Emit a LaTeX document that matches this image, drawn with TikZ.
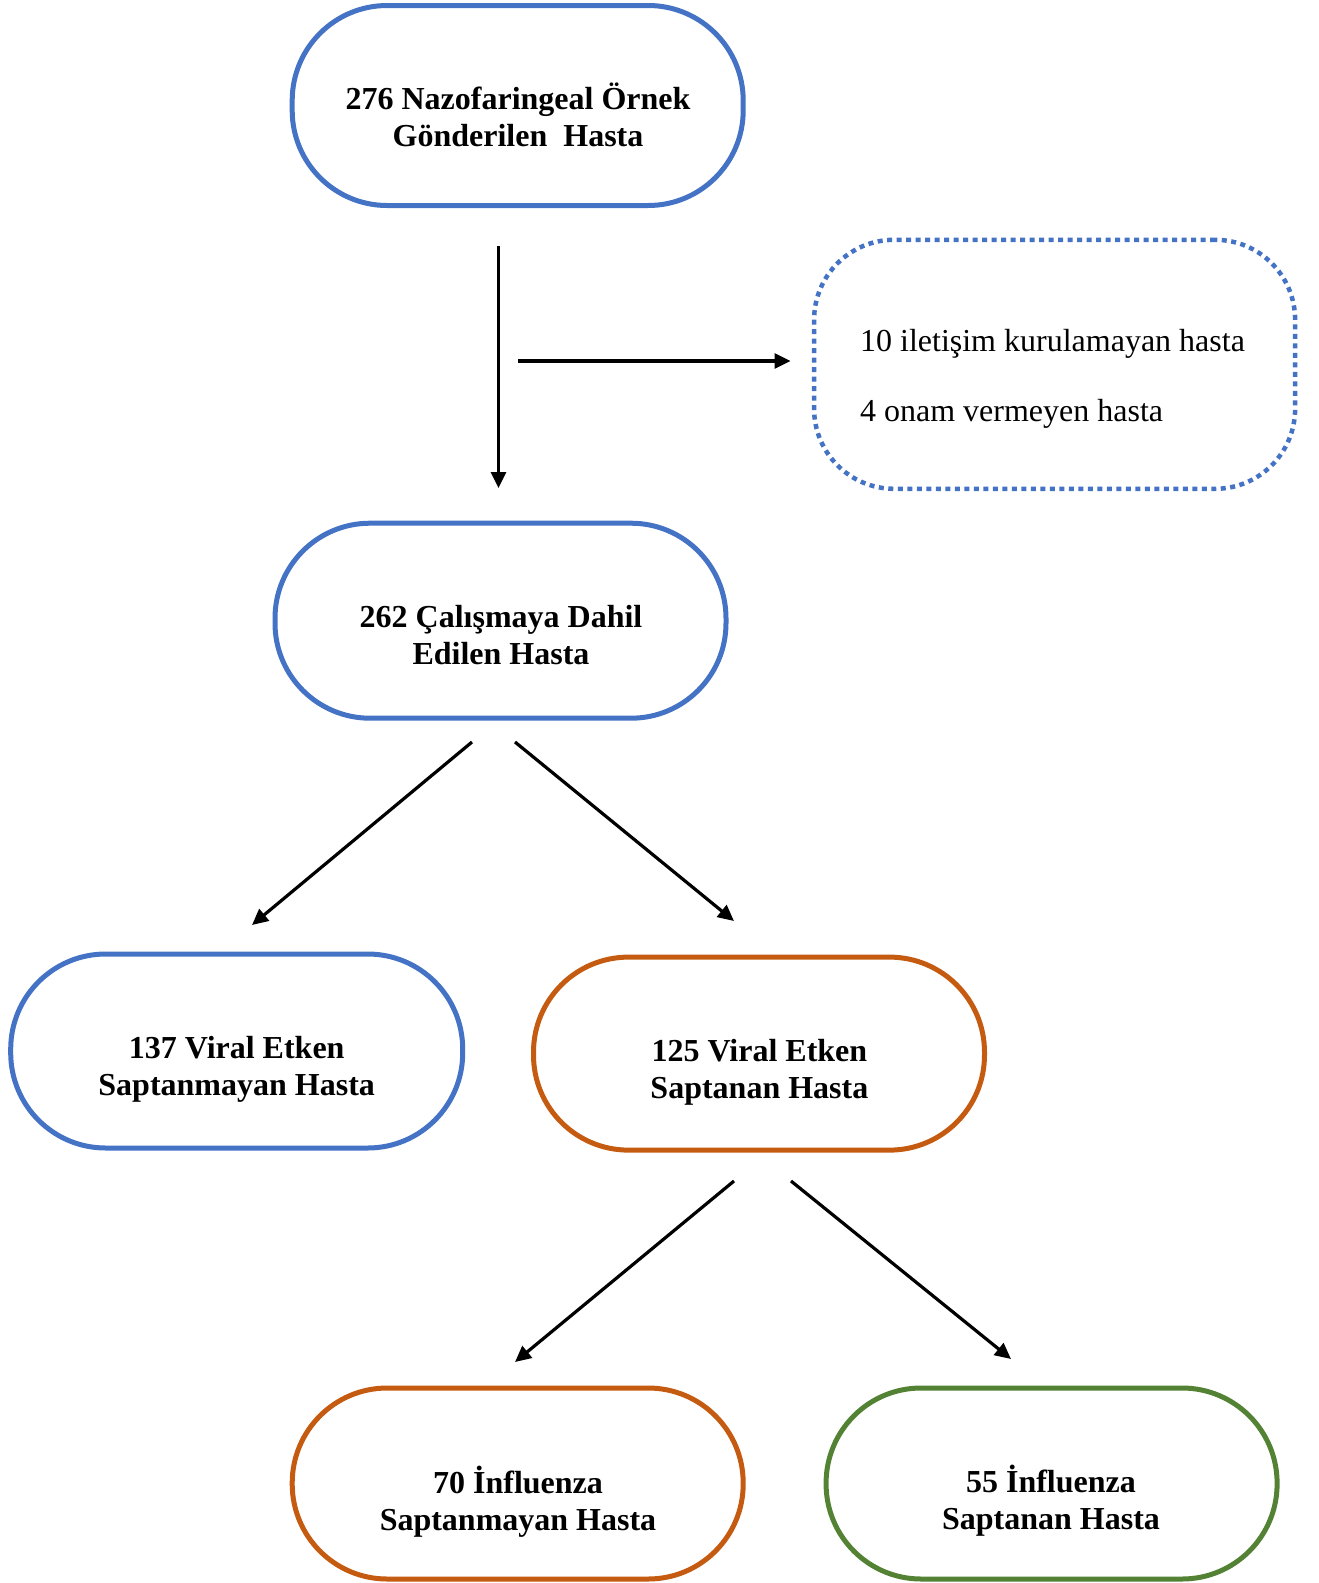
\documentclass[tikz,border=0pt]{standalone}
\usepackage{fontspec}
\setmainfont{Liberation Serif}
\usetikzlibrary{arrows.meta}
\definecolor{obBlue}{HTML}{4472C4}
\definecolor{obOrange}{HTML}{C55A11}
\definecolor{obGreen}{HTML}{548235}
\tikzset{
  termbox/.style={draw, line width=5pt, rounded corners=95pt, minimum width=451pt, minimum height=195pt, inner sep=0pt},
  boxtext/.style={font=\bfseries\fontsize{32}{37}\selectfont, align=center, inner sep=0pt},
  plaintext/.style={font=\fontsize{32}{37}\selectfont, align=left, inner sep=0pt},
  dotbox/.style={draw=obBlue, line width=4.5pt, dash pattern=on 5pt off 4.5pt, rounded corners=80pt, minimum width=481pt, minimum height=249pt, inner sep=0pt},
  arr/.style={line width=3.2pt, -{Triangle[length=16pt,width=15pt]}}
}
\begin{document}
\begin{tikzpicture}[x=1pt,y=-1pt]
\useasboundingbox (0,0) rectangle (1318,1583);
% boxes
\node[termbox, draw=obBlue, minimum height=200pt] (n1) at (517.7,105.5) {};
\node[boxtext] (t1) at (518,115) {276 Nazofaringeal Örnek\\Gönderilen~~Hasta};
\node[dotbox] (ex) at (1054.6,364.3) {};
\node[plaintext] (tex) at (1052.5,378.5) {10 iletişim kurulamayan hasta\\[33pt]4 onam vermeyen hasta};
\node[termbox, draw=obBlue] (n2) at (500.5,620.7) {};
\node[boxtext] (t2) at (501,635) {262 Çalışmaya Dahil\\Edilen Hasta};
\node[termbox, draw=obBlue, minimum width=452pt, minimum height=194pt] (n3) at (236.7,1051) {};
\node[boxtext] (t3) at (236.7,1069) {137 Viral Etken\\Saptanmayan Hasta};
\node[termbox, draw=obOrange, minimum height=193pt] (n4) at (759,1053.6) {};
\node[boxtext] (t4) at (759.4,1072) {125 Viral Etken\\Saptanan Hasta};
\node[termbox, draw=obOrange, minimum height=191pt] (n5) at (517.7,1483.5) {};
\node[boxtext] (t5) at (518,1502) {70 İnfluenza\\Saptanmayan Hasta};
\node[termbox, draw=obGreen, minimum height=191pt] (n6) at (1051.6,1483.5) {};
\node[boxtext] (t6) at (1051,1501) {55 İnfluenza\\Saptanan Hasta};
% connector end points
\coordinate (a1s) at (498.5,246);
\coordinate (a1e) at (498.5,488);
\coordinate (a2s) at (518,361);
\coordinate (a2e) at (790.5,361);
\coordinate (a3s) at (472,742);
\coordinate (a3e) at (252,925);
\coordinate (a4s) at (515,742);
\coordinate (a4e) at (734,921);
\coordinate (a5s) at (734,1181);
\coordinate (a5e) at (515,1362);
\coordinate (a6s) at (791,1181);
\coordinate (a6e) at (1011,1359);
% connectors
\draw[arr] (a1s) -- (a1e);
\draw[arr] (a2s) -- (a2e);
\draw[arr] (a3s) -- (a3e);
\draw[arr] (a4s) -- (a4e);
\draw[arr] (a5s) -- (a5e);
\draw[arr] (a6s) -- (a6e);
\end{tikzpicture}
\end{document}
